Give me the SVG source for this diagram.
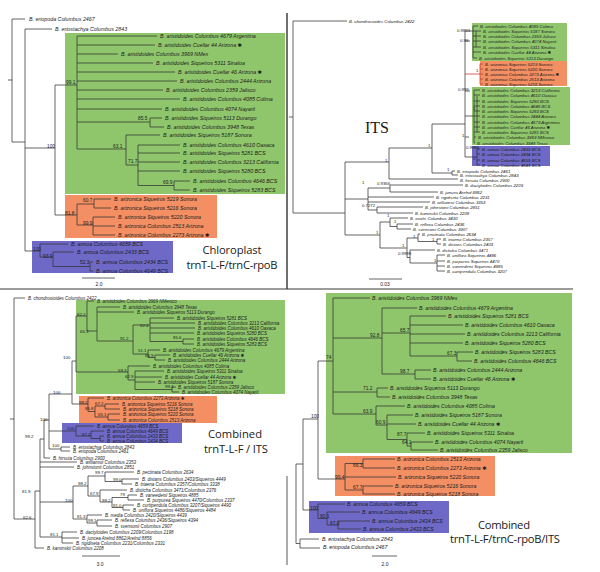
<svg xmlns="http://www.w3.org/2000/svg" width="600" height="572" viewBox="0 0 600 572">
<style>
.lf{font-family:"Liberation Sans",Arial,"DejaVu Sans",sans-serif;font-style:italic;fill:#1c1c1c;dominant-baseline:central}
.sp{font-family:"Liberation Sans",Arial,sans-serif;fill:#1c1c1c;dominant-baseline:central}
.tr{fill:none;stroke:#333;stroke-width:0.75}
.big{font-family:"Open Sans","Liberation Sans",sans-serif;font-size:11.2px;fill:#1a1a1a;text-anchor:middle}
.g{fill:#8fc66c}.o{fill:#f38f62}.b{fill:#6e69c7}
#tl .lf{font-size:5.3px}#tl .sp{font-size:4.8px}
#trp .lf{font-size:4.3px}#trp .sp{font-size:4.3px}
#bl .lf{font-size:4.5px}#bl .sp{font-size:4.4px}
#br .lf{font-size:5.2px}#br .sp{font-size:4.8px}
.sc{font-family:"Liberation Sans",Arial,sans-serif;font-size:5px;fill:#1c1c1c;text-anchor:middle}
</style>
<rect width="600" height="572" fill="#fff"/>
<g id="frame" fill="none">
<path d="M0 289H573" stroke="#222" stroke-width="0.9"/>
<path d="M287 13V289" stroke="#333" stroke-width="1.4"/>
<path d="M287 476V565" stroke="#888" stroke-width="1.4"/>
</g>

<!-- ============ TOP LEFT: Chloroplast ============ -->
<g id="tl">
<g id="tl-boxes">
<rect class="g" x="65" y="33" width="220" height="161"/>
<rect class="o" x="65" y="195" width="152" height="43"/>
<rect class="b" x="32" y="241" width="141" height="32"/>
</g>
<g id="tl-connectors">
<path class="tr" d="M12 19V142M8 80H12M12 19H25M12 142H25M25 29V251M25 29H52M25 148H55M25 251H40M55 85V215M55 85H77M55 215H77M77 36V149M77 36H157M77 45H155M77 54H118M77 63H153M77 72H175M77 81H177M77 90H163M77 99H180M77 109H162M77 122H150M77 149H126M150 118V127M150 118H162M150 127H164M126 135V165M126 135H160M126 165H138M138 145V185.5M138 145H180M138 153H180M138 162H180M138 171H180M138 185.5H174M174 181V190M174 181H190M174 190H190M77 204V225M77 204H94M77 225H93M94 199V208M94 199H111M94 208H111M93 217V235M93 217H115M93 226H115M93 235H115M40 244V257M40 244H68M40 257H53M53 252V266.5M53 252H74M53 266.5H90M90 262V271M90 262H93M90 271H93"/>
<path class="tr" d="M82 278H115"/>
</g>
<g id="tl-out">
<text class="lf" x="29" y="19">B. eriopoda Columbus 2467</text>
<text class="lf" x="55" y="29">B. eriostachya Columbus 2843</text>
</g>
<g id="tl-aristidoides">
<text class="lf" x="160" y="36">B. aristidoides Columbus 4679 Argentina</text>
<text class="lf" x="158" y="45">B. aristidoides Cuellar 44 Arizona ✱</text>
<text class="lf" x="121" y="54">B. aristidoides Columbus 3969 NMex</text>
<text class="lf" x="156" y="63">B. aristidoides Siqueiros 5311 Sinaloa</text>
<text class="lf" x="178" y="72">B. aristidoides Cuellar 46 Arizona ✱</text>
<text class="lf" x="180" y="81">B. aristidoides Columbus 2444 Arizona</text>
<text class="lf" x="166" y="90">B. aristidoides Columbus 2359 Jalisco</text>
<text class="lf" x="183" y="99">B. aristidoides Columbus 4085 Colima</text>
<text class="lf" x="165" y="109">B. aristidoides Columbus 4074 Nayarit</text>
<text class="lf" x="165" y="118">B. aristidoides Siqueiros 5113 Durango</text>
<text class="lf" x="167" y="127">B. aristidoides Columbus 3948 Texas</text>
<text class="lf" x="163" y="135">B. aristidoides Siqueiros 5187 Sonora</text>
<text class="lf" x="183" y="145">B. aristidoides Columbus 4610 Oaxaca</text>
<text class="lf" x="183" y="153">B. aristidoides Siqueiros 5281 BCS</text>
<text class="lf" x="183" y="162">B. aristidoides Columbus 3213 California</text>
<text class="lf" x="183" y="171">B. aristidoides Siqueiros 5280 BCS</text>
<text class="lf" x="193" y="181">B. aristidoides Columbus 4646 BCS</text>
<text class="lf" x="193" y="190">B. aristidoides Siqueiros 5283 BCS</text>
</g>
<g id="tl-arizonica">
<text class="lf" x="114" y="199">B. arizonica Siqueiros 5219 Sonora</text>
<text class="lf" x="114" y="208">B. arizonica Siqueiros 5216 Sonora</text>
<text class="lf" x="118" y="217">B. arizonica Siqueiros 5220 Sonora</text>
<text class="lf" x="118" y="226">B. arizonica Columbus 2513 Arizona</text>
<text class="lf" x="118" y="235">B. arizonica Columbus 2273 Arizona ✱</text>
</g>
<g id="tl-annua">
<text class="lf" x="71" y="244">B. annua Columbus 4659 BCS</text>
<text class="lf" x="77" y="252">B. annua Columbus 2433 BCS</text>
<text class="lf" x="96" y="262">B. annua Columbus 2434 BCS</text>
<text class="lf" x="96" y="271">B. annua Columbus 4649 BCS</text>
</g>
<g id="tl-support">
<text class="sp" x="66" y="82">99.1</text>
<text class="sp" x="47" y="146">100</text>
<text class="sp" x="138" y="118">85.5</text>
<text class="sp" x="113" y="146">63.1</text>
<text class="sp" x="128" y="161">71.7</text>
<text class="sp" x="163" y="182">69.9</text>
<text class="sp" x="65" y="213">81.8</text>
<text class="sp" x="83" y="200">60.7</text>
<text class="sp" x="83" y="223">99.9</text>
<text class="sp" x="33" y="249">100</text>
<text class="sp" x="43" y="256">93.9</text>
<text class="sp" x="80" y="262">52.3</text>
</g>
<text class="sc" x="99" y="286">2.0</text>
<text class="big" x="232" y="254" textLength="59">Chloroplast</text>
<text class="big" x="232" y="269" textLength="91">trnT-L-F/trnC-rpoB</text>
</g>

<!-- ============ TOP RIGHT: ITS ============ -->
<g id="trp">
<g id="tr-boxes">
<rect class="g" x="472" y="23" width="95" height="38"/>
<rect class="o" x="480" y="61" width="87" height="25"/>
<rect class="g" x="472" y="87" width="98" height="58"/>
<rect class="b" x="472" y="146" width="78" height="20"/>
</g>
<g id="tr-connectors">
<path class="tr" d="M293 21V213M289 117H293M293 21H347M293 213H345M345 162V235M345 162H389M345 199H368M345 235H380M389 148V179M389 148H432M389 179H458M432 124V173M432 124H465M432 173H452M452 171V175M452 171H455M452 175H458M465 31V157M465 31H473M465 41H470M465 91H470M465 116H474M465 137H469M465 157H477M473 26V58M473 26H478M473 31H481M473 36H481M473 41H481M473 47H481M473 52H481M473 58H477M476 31V47M474 90V143M474 90H480M474 95H480M474 101H480M474 106H480M474 111H480M474 116H480M474 122H480M474 127H480M474 132H480M474 137H476M474 143H475M477 96V132M477 149V165M477 149H480M477 154H480M477 160H480M477 165H480M368 188V210M368 188H390M368 197H434M368 202H430M368 210H377M390 185V192M390 185H463M390 192H438M377 207V213M377 207H423M377 213H413M380 222V248M380 222H390M380 248H407M390 218V226.5M390 218H408M390 226.5H397M397 224V229M397 224H413M397 229H411M407 238V257.5M407 238H418M407 257.5H410M418 234V241.5M418 234H420M418 241.5H437M437 239V244M437 239H441M437 244H441M410 250V263M410 250H435M410 263H437M437 255V271M437 255H445M437 261H445M437 266H445M437 271H445"/>
<path d="M465 74H480M480 64V84M480 64H483M480 69H483M480 74H483M480 79H483M480 84H483" fill="none" stroke="#c0392b" stroke-width="0.75"/>
<path class="tr" d="M369 279H402"/>
</g>
<g id="tr-aristidoides-a">
<text class="lf" x="480" y="26">B. aristidoides Columbus 4085 Colima</text>
<text class="lf" x="483" y="31">B. aristidoides Siqueiros 5187 Sonora</text>
<text class="lf" x="483" y="36">B. aristidoides Columbus 2359 Jalisco</text>
<text class="lf" x="483" y="41">B. aristidoides Columbus 4074 Nayarit</text>
<text class="lf" x="483" y="47">B. aristidoides Siqueiros 5311 Sinaloa</text>
<text class="lf" x="483" y="52">B. aristidoides Cuellar 44 Arizona ✱</text>
<text class="lf" x="479" y="58">B. aristidoides Siqueiros 5113 Durango</text>
</g>
<g id="tr-arizonica">
<text class="lf" x="485" y="64">B. arizonica Siqueiros 5219 Sonora</text>
<text class="lf" x="485" y="69">B. arizonica Siqueiros 5220 Sonora</text>
<text class="lf" x="485" y="74">B. arizonica Columbus 2273 Arizona ✱</text>
<text class="lf" x="485" y="79">B. arizonica Columbus 2513 Arizona</text>
<text class="lf" x="485" y="84">B. arizonica Siqueiros 5216 Sonora</text>
</g>
<g id="tr-aristidoides-b">
<text class="lf" x="482" y="90">B. aristidoides Columbus 3213 California</text>
<text class="lf" x="482" y="95">B. aristidoides Columbus 4610 Oaxaca</text>
<text class="lf" x="482" y="101">B. aristidoides Siqueiros 5280 BCS</text>
<text class="lf" x="482" y="106">B. aristidoides Columbus 4646 BCS</text>
<text class="lf" x="482" y="111">B. aristidoides Siqueiros 5283 BCS</text>
<text class="lf" x="482" y="116">B. aristidoides Columbus 2444 Arizona</text>
<text class="lf" x="482" y="122">B. aristidoides Columbus 4679 Argentina</text>
<text class="lf" x="482" y="127">B. aristidoides Cuellar 46 Arizona ✱</text>
<text class="lf" x="482" y="132">B. aristidoides Siqueiros 5281 BCS</text>
<text class="lf" x="478" y="137">B. aristidoides Columbus 3969 NMexico</text>
<text class="lf" x="477" y="143">B. aristidoides Columbus 3948 Texas</text>
</g>
<g id="tr-annua">
<text class="lf" x="482" y="149">B. annua Columbus 2433 BCS</text>
<text class="lf" x="482" y="154">B. annua Columbus 2434 BCS</text>
<text class="lf" x="482" y="160">B. annua Columbus 4659 BCS</text>
<text class="lf" x="482" y="165">B. annua Columbus 4649 BCS</text>
</g>
<g id="tr-others">
<text class="lf" x="349" y="21">B. chondrosioides Columbus 2422</text>
<text class="lf" x="457" y="171">B. eriopoda Columbus 2461</text>
<text class="lf" x="460" y="175.5">B. eriostachya Columbus 2843</text>
<text class="lf" x="460" y="180">B. hirsuta Columbus 2900</text>
<text class="lf" x="465" y="185">B. dactyloides Columbus 2209</text>
<text class="lf" x="440" y="192">B. juncea Arelnd 8862</text>
<text class="lf" x="436" y="197">B. rigidiseta Columbus 2231</text>
<text class="lf" x="432" y="202">B. williamsii Columbus 3353</text>
<text class="lf" x="425" y="207">B. johnstonii Columbus 2851</text>
<text class="lf" x="415" y="213">B. kaminskii Columbus 2208</text>
<text class="lf" x="410" y="218">B. ovalis Columbus 3430</text>
<text class="lf" x="415" y="224">B. reflexa Columbus 2436</text>
<text class="lf" x="413" y="229">B. svensonii Columbus 3907</text>
<text class="lf" x="422" y="234">B. pectinata Columbus 2634</text>
<text class="lf" x="443" y="239">B. triaena Columbus 2357</text>
<text class="lf" x="443" y="244">B. distans Columbus 2403</text>
<text class="lf" x="437" y="250">B. disticha Columbus 3471</text>
<text class="lf" x="447" y="255">B. uniflora Siqueiros 4486</text>
<text class="lf" x="447" y="261">B. purpurea Siqueiros 4470</text>
<text class="lf" x="447" y="266">B. vaneedenii Siqueiros 4885</text>
<text class="lf" x="447" y="271">B. curtipendula Columbus 3207</text>
</g>
<g id="tr-support">
<text class="sp" x="457" y="30">0.9893</text>
<text class="sp" x="460" y="40">0.99</text>
<text class="sp" x="476" y="70">1</text>
<text class="sp" x="458" y="89">0.999</text>
<text class="sp" x="473" y="108">1</text>
<text class="sp" x="462" y="135">1</text>
<text class="sp" x="466" y="147">0.9986</text>
<text class="sp" x="473" y="158">1</text>
<text class="sp" x="428" y="145">1</text>
<text class="sp" x="385" y="160">1</text>
<text class="sp" x="447" y="169">1</text>
<text class="sp" x="362" y="182">1</text>
<text class="sp" x="377" y="183">0.9366</text>
<text class="sp" x="362" y="205">0.7272</text>
<text class="sp" x="387" y="215.5">1</text>
<text class="sp" x="394" y="221.5">1</text>
<text class="sp" x="376" y="232">1</text>
<text class="sp" x="413" y="236">1</text>
<text class="sp" x="432" y="239.5">1</text>
<text class="sp" x="402" y="245">1</text>
<text class="sp" x="398" y="253">0.9999</text>
<text class="sp" x="434" y="260">1</text>
</g>
<text x="365" y="133" font-family="'Liberation Serif',serif" font-size="16" fill="#1a1a1a">ITS</text>
<text class="sc" x="385" y="286">0.03</text>
</g>

<!-- ============ BOTTOM LEFT: Combined trnT-L-F / ITS ============ -->
<g id="bl">
<g id="bl-boxes">
<rect class="g" x="76" y="300" width="209" height="94"/>
<rect class="o" x="79" y="396" width="138" height="27"/>
<rect class="b" x="62" y="423" width="120" height="20"/>
</g>
<g id="bl-connectors">
<path class="tr" d="M14 298V519M10 419H14M14 298H25M14 519H35M35 491V548M35 491H40M35 548H44M40 439V537M40 439H44M40 462H77M40 467H74M40 502H73M40 537H62M44 420V458M44 420H49M44 458H50M49 394V449M49 394H72M49 431H76M49 449H61M72 361V404M72 361H76M72 404H88M76 316V372M76 316H87M76 372H128M87 301V331M87 301H94M87 331H97M97 307V341M97 307H120M97 312H134M97 341H133M133 325V354M133 325H150M133 354H148M150 318V341.5M150 318H174M150 323H195M150 328H195M150 333H194M150 341.5H183M183 339V344M183 339H194M183 344H194M148 350V357.5M148 350H160M148 357.5H155M155 355V360M155 355H170M155 360H165M128 366V380M128 366H150M128 380H135M135 371V389.5M135 371H164M135 377H162M135 382H155M135 389.5H172M172 387V392M172 387H176M172 392H179M88 398V411.5M88 398H104M88 411.5H95M95 406V417M95 406H105M95 417H108M105 404V409M105 404H119M105 409H120M108 414V420M108 414H120M108 420H120M76 426V436M76 426H94M76 436H91M91 431V438.5M91 431H104M91 438.5H100M100 436V441M100 436H104M100 441H104M61 447V451M61 447H70M61 451H70M73 486V519M73 486H88M73 519H87M88 476V496M88 476H105M88 496H100M105 472V481.5M105 472H134M105 481.5H122M122 479V484M122 479H139M122 484H132M100 490V502M100 490H127M100 502H112M112 497.5V507.5M112 497.5H128M112 507.5H123M128 495V500M128 495H137M128 500H144M123 505V510M123 505H134M123 510H130M87 515V523M87 515H102M87 523H97M97 520V526M97 520H112M97 526H112M62 532V543M62 532H77M62 538H79M62 543H73"/>
<path class="tr" d="M82 556H120"/>
</g>
<g id="bl-aristidoides">
<text class="lf" x="97" y="301">B. aristidoides Columbus 3969 NMexico</text>
<text class="lf" x="123" y="307">B. aristidoides Columbus 3948 Texas</text>
<text class="lf" x="137" y="312">B. aristidoides Siqueiros 5113 Durango</text>
<text class="lf" x="177" y="318">B. aristidoides Siqueiros 5281 BCS</text>
<text class="lf" x="198" y="323">B. aristidoides Columbus 3213 California</text>
<text class="lf" x="198" y="328">B. aristidoides Columbus 4610 Oaxaca</text>
<text class="lf" x="197" y="333">B. aristidoides Siqueiros 5280 BCS</text>
<text class="lf" x="197" y="339">B. aristidoides Columbus 4646 BCS</text>
<text class="lf" x="197" y="344">B. aristidoides Siqueiros 5283 BCS</text>
<text class="lf" x="163" y="350">B. aristidoides Columbus 4679 Argentina</text>
<text class="lf" x="173" y="355">B. aristidoides Cuellar 46 Arizona ✱</text>
<text class="lf" x="168" y="360">B. aristidoides Columbus 2444 Arizona</text>
<text class="lf" x="153" y="366">B. aristidoides Columbus 4085 Colima</text>
<text class="lf" x="167" y="371">B. aristidoides Siqueiros 5311 Sinaloa</text>
<text class="lf" x="165" y="377">B. aristidoides Cuellar 44 Arizona ✱</text>
<text class="lf" x="158" y="382">B. aristidoides Siqueiros 5187 Sonora</text>
<text class="lf" x="178" y="387">B. aristidoides Columbus 2359 Jalisco</text>
<text class="lf" x="182" y="392">B. aristidoides Columbus 4074 Nayarit</text>
</g>
<g id="bl-arizonica">
<text class="lf" x="107" y="398">B. arizonica Columbus 2273 Arizona ✱</text>
<text class="lf" x="122" y="404">B. arizonica Siqueiros 5216 Sonora</text>
<text class="lf" x="123" y="409">B. arizonica Siqueiros 5218 Sonora</text>
<text class="lf" x="123" y="414">B. arizonica Siqueiros 5220 Sonora</text>
<text class="lf" x="123" y="420">B. arizonica Columbus 2513 Arizona</text>
</g>
<g id="bl-annua">
<text class="lf" x="97" y="426">B. annua Columbus 4659 BCS</text>
<text class="lf" x="107" y="431">B. annua Columbus 4649 BCS</text>
<text class="lf" x="107" y="436">B. annua Columbus 2433 BCS</text>
<text class="lf" x="107" y="441">B. annua Columbus 2434 BCS</text>
</g>
<g id="bl-others">
<text class="lf" x="28" y="298">B. chondrosioides Columbus 2422</text>
<text class="lf" x="73" y="447">B. eriostachya Columbus 2843</text>
<text class="lf" x="73" y="451.5">B. eriopoda Columbus 2461</text>
<text class="lf" x="53" y="458">B. hirsuta Columbus 2900</text>
<text class="lf" x="80" y="462">B. williamsii Columbus 2353</text>
<text class="lf" x="77" y="467">B. johnstonii Columbus 2851</text>
<text class="lf" x="137" y="472">B. pectinata Columbus 2634</text>
<text class="lf" x="142" y="479">B. distans Columbus 2403/Siqueiros 4449</text>
<text class="lf" x="135" y="484">B. triaena Columbus 2357/Columbus 3338</text>
<text class="lf" x="130" y="490">B. disticha Columbus 3471/Columbus 2376</text>
<text class="lf" x="140" y="495">B. vaneedenii Siqueiros 4885</text>
<text class="lf" x="147" y="500">B. purpurea Siqueiros 4470/Columbus 2337</text>
<text class="lf" x="137" y="505">B. curtipendula Columbus 3207/Siqueiros 4490</text>
<text class="lf" x="133" y="510">B. uniflora Siqueiros 4486/Siqueiros 4484</text>
<text class="lf" x="105" y="515">B. media Columbus 2420/Siqueiros 4439</text>
<text class="lf" x="115" y="520">B. reflexa Columbus 2436/Siqueiros 4394</text>
<text class="lf" x="115" y="526">B. svensonii Columbus 2907</text>
<text class="lf" x="80" y="532">B. dactyloides Columbus 2209/Columbus 2198</text>
<text class="lf" x="82" y="538">B. juncea Arelnd 8862/Arelnd 8856</text>
<text class="lf" x="76" y="543">B. rigidiseta Columbus 2231/Columbus 2331</text>
<text class="lf" x="47" y="548">B. kaminskii Columbus 2208</text>
</g>
<g id="bl-support">
<text class="sp" x="77" y="314">82.2</text>
<text class="sp" x="80" y="331">65.3</text>
<text class="sp" x="140" y="325">62.4</text>
<text class="sp" x="120" y="338">91.2</text>
<text class="sp" x="173" y="337">85.6</text>
<text class="sp" x="138" y="350">51.1</text>
<text class="sp" x="145" y="355">66.9</text>
<text class="sp" x="63" y="357">100</text>
<text class="sp" x="118" y="370">59.3</text>
<text class="sp" x="125" y="376">62.9</text>
<text class="sp" x="165" y="386">99.4</text>
<text class="sp" x="53" y="392">100</text>
<text class="sp" x="79" y="402">99.2</text>
<text class="sp" x="95" y="403">67.2</text>
<text class="sp" x="85" y="408">85.8</text>
<text class="sp" x="98" y="414">65.1</text>
<text class="sp" x="40" y="419">100</text>
<text class="sp" x="67" y="428">100</text>
<text class="sp" x="82" y="434">67.2</text>
<text class="sp" x="25" y="436">99.2</text>
<text class="sp" x="52" y="445">100</text>
<text class="sp" x="95" y="472">99.7</text>
<text class="sp" x="113" y="479">99.0</text>
<text class="sp" x="78" y="483">98.2</text>
<text class="sp" x="22" y="491">81.9</text>
<text class="sp" x="90" y="493">67.9</text>
<text class="sp" x="120" y="494">79</text>
<text class="sp" x="65" y="500">100</text>
<text class="sp" x="102" y="500">99.2</text>
<text class="sp" x="113" y="505">81.0</text>
<text class="sp" x="77" y="516">81.3</text>
<text class="sp" x="23" y="517">62.6</text>
<text class="sp" x="88" y="520">99.1</text>
<text class="sp" x="50" y="534">81.1</text>
</g>
<text class="sc" x="100" y="566">3.0</text>
<text class="big" x="235" y="438" textLength="54">Combined</text>
<text class="big" x="236" y="453" textLength="64">trnT-L-F / ITS</text>
</g>

<!-- ============ BOTTOM RIGHT: Combined trnT-L-F/trnC-rpoB/ITS ============ -->
<g id="br">
<g id="br-boxes">
<rect class="g" x="326" y="293" width="246" height="160"/>
<rect class="o" x="335" y="456" width="160" height="40"/>
<rect class="b" x="309" y="501" width="140" height="32"/>
</g>
<g id="br-connectors">
<path class="tr" d="M296 464V543.5M296 464H303M296 543.5H300M300 539V548M300 539H319M300 548H320M303 419V510M303 419H318M303 510H318M318 361V479M318 361H333M318 479H345M333 298V414M333 298H370M333 338H382M333 392H377M333 414H376M382 308V374M382 308H417M382 333H410M382 374H415M410 316V356M410 316H446M410 325H463M410 334H465M410 343H463M410 356H457M457 352V361M457 352H473M457 361H472M415 370V379M415 370H431M415 379H431M377 388V397M377 388H388M377 397H390M376 406V425M376 406H405M376 425H387M387 415V439.5M387 415H413M387 424H416M387 439.5H407M407 433V446M407 433H425M407 446H411M411 442V450M411 442H433M411 450H438M345 463.5V490M345 463.5H363M345 477H396M345 490H363M363 459V468M363 459H395M363 468H395M363 486V494M363 486H393M363 494H395M318 504V518.5M318 504H345M318 518.5H327M327 512V525M327 512H360M327 525H338M338 521V529M338 521H370M338 529H361"/>
<path class="tr" d="M372 556H397"/>
</g>
<g id="br-aristidoides">
<text class="lf" x="372" y="298">B. aristidoides Columbus 3969 NMex</text>
<text class="lf" x="419" y="308">B. aristidoides Columbus 4679 Argentina</text>
<text class="lf" x="448" y="316">B. aristidoides Siqueiros 5281 BCS</text>
<text class="lf" x="465" y="325">B. aristidoides Columbus 4610 Oaxaca</text>
<text class="lf" x="467" y="334">B. aristidoides Columbus 3213 California</text>
<text class="lf" x="465" y="343">B. aristidoides Siqueiros 5280 BCS</text>
<text class="lf" x="475" y="352">B. aristidoides Siqueiros 5283 BCS</text>
<text class="lf" x="474" y="361">B. aristidoides Columbus 4646 BCS</text>
<text class="lf" x="433" y="370">B. aristidoides Columbus 2444 Arizona</text>
<text class="lf" x="433" y="379">B. aristidoides Cuellar 46 Arizona ✱</text>
<text class="lf" x="390" y="388">B. aristidoides Siqueiros 5113 Durango</text>
<text class="lf" x="392" y="397">B. aristidoides Columbus 3948 Texas</text>
<text class="lf" x="407" y="406">B. aristidoides Columbus 4085 Colima</text>
<text class="lf" x="415" y="415">B. aristidoides Siqueiros 5187 Sonora</text>
<text class="lf" x="418" y="424">B. aristidoides Cuellar 44 Arizona ✱</text>
<text class="lf" x="427" y="433">B. aristidoides Siqueiros 5311 Sinaloa</text>
<text class="lf" x="435" y="442">B. aristidoides Columbus 4074 Nayarit</text>
<text class="lf" x="440" y="450">B. aristidoides Columbus 2359 Jalisco</text>
</g>
<g id="br-arizonica">
<text class="lf" x="397" y="459">B. arizonica Columbus 2513 Arizona</text>
<text class="lf" x="397" y="468">B. arizonica Columbus 2273 Arizona ✱</text>
<text class="lf" x="398" y="477">B. arizonica Siqueiros 5220 Sonora</text>
<text class="lf" x="395" y="486">B. arizonica Siqueiros 5216 Sonora</text>
<text class="lf" x="397" y="494">B. arizonica Siqueiros 5218 Sonora</text>
</g>
<g id="br-annua">
<text class="lf" x="347" y="504">B. annua Columbus 4659 BCS</text>
<text class="lf" x="362" y="512">B. annua Columbus 4649 BCS</text>
<text class="lf" x="372" y="521">B. annua Columbus 2434 BCS</text>
<text class="lf" x="363" y="529">B. annua Columbus 2433 BCS</text>
</g>
<g id="br-others">
<text class="lf" x="322" y="539">B. eriostachya Columbus 2843</text>
<text class="lf" x="323" y="547">B. eriopoda Columbus 2467</text>
</g>
<g id="br-support">
<text class="sp" x="370" y="335">92.8</text>
<text class="sp" x="400" y="330">65.7</text>
<text class="sp" x="447" y="353">67.3</text>
<text class="sp" x="326" y="357">74</text>
<text class="sp" x="400" y="371">98.7</text>
<text class="sp" x="363" y="388">71.2</text>
<text class="sp" x="363" y="411">63.9</text>
<text class="sp" x="311" y="416">100</text>
<text class="sp" x="376" y="422">60.9</text>
<text class="sp" x="397" y="434">87.7</text>
<text class="sp" x="402" y="442">64.1</text>
<text class="sp" x="353" y="465">66.3</text>
<text class="sp" x="335" y="477">99.4</text>
<text class="sp" x="353" y="487">67.7</text>
<text class="sp" x="310" y="508">100</text>
<text class="sp" x="320" y="516">90.1</text>
<text class="sp" x="330" y="523">67.0</text>
</g>
<text class="sc" x="385" y="566">2.0</text>
<text class="big" x="504" y="529" textLength="52">Combined</text>
<text class="big" x="505" y="543" textLength="110">trnT-L-F/trnC-rpoB/ITS</text>
</g>
</svg>
